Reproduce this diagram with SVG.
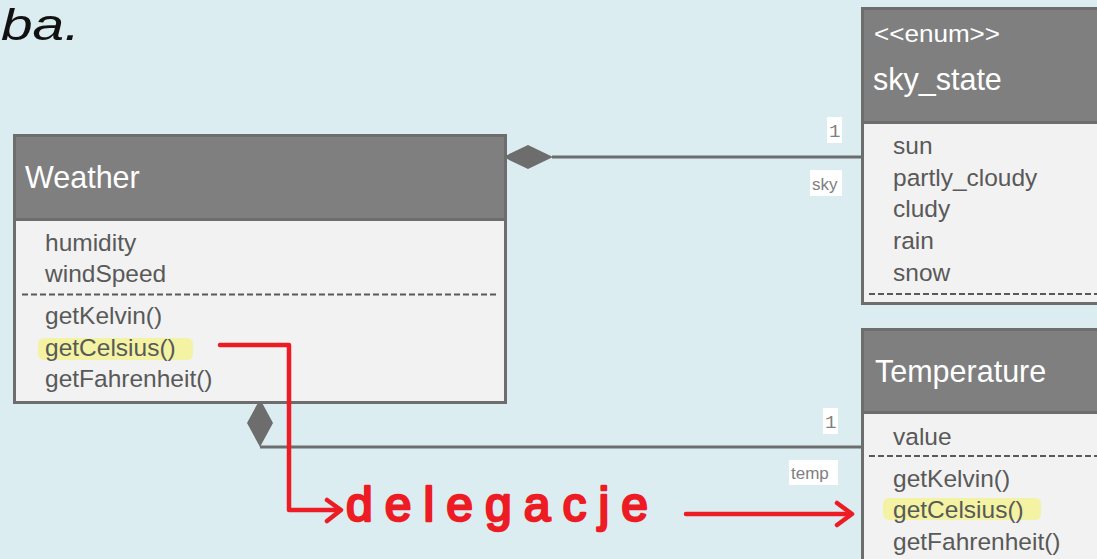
<svg xmlns="http://www.w3.org/2000/svg" width="1097" height="559" viewBox="0 0 1097 559">
  <style>
    .frame { fill: #f2f2f2; stroke: #6d6d6d; stroke-width: 3; }
    .head { fill: #7f7f7f; stroke: #6d6d6d; stroke-width: 3; }
    .title { font-family: "Liberation Sans", Arial, sans-serif; fill: #ffffff; }
    .item { font-family: "Liberation Sans", Arial, sans-serif; font-size: 24.5px; fill: #595959; }
    .sep { stroke: #595959; stroke-width: 2; stroke-dasharray: 6 3; }
    .assoc { stroke: #6d6d6d; stroke-width: 3; fill: none; }
    .diamond { fill: #6d6d6d; }
    .lblbg { fill: #ffffff; }
    .mult { font-family: "Liberation Mono", "DejaVu Sans Mono", monospace; font-size: 19px; fill: #808080; }
    .role { font-family: "Liberation Sans", Arial, sans-serif; font-size: 17px; fill: #808080; }
    .mark { fill: #f3f39a; opacity: 0.9; }
    .pen { stroke: #ed1c24; stroke-width: 4.5; fill: none; stroke-linecap: round; stroke-linejoin: round; }
    .hand { font-family: "Liberation Sans", Arial, sans-serif; font-size: 48px; fill: #ed1c24; stroke: #ed1c24; stroke-width: 2.5; stroke-linejoin: round; }
  </style>

  <rect width="1097" height="559" fill="#dbedf0"/>

  <!-- slide title fragment -->
  <text x="1" y="40" font-family="Liberation Sans, Arial, sans-serif" font-style="italic" font-size="44" fill="#111111" textLength="79" lengthAdjust="spacingAndGlyphs">ba.</text>

  <!-- associations -->
  <g id="connectors">
    <line class="assoc" x1="552" y1="157" x2="862" y2="157"/>
    <polygon class="diamond" points="503,157 528,145 553,157 528,169"/>
    <line class="assoc" x1="260" y1="447" x2="862" y2="447"/>
    <polygon class="diamond" points="260,399 273,423 260,447 247,423"/>

    <rect class="lblbg" x="827" y="117" width="15" height="26"/>
    <text class="mult" x="829" y="137">1</text>
    <rect class="lblbg" x="810" y="170" width="32" height="26"/>
    <text class="role" x="812" y="190">sky</text>

    <rect class="lblbg" x="823" y="408" width="15" height="26"/>
    <text class="mult" x="825" y="428">1</text>
    <rect class="lblbg" x="789" y="460" width="49" height="25"/>
    <text class="role" x="791" y="479">temp</text>
  </g>

  <!-- Weather class -->
  <g id="weather">
    <rect class="frame" x="14.5" y="135.5" width="491" height="267"/>
    <rect class="head" x="14.5" y="135.5" width="491" height="84"/>
    <text class="title" x="25" y="188" font-size="30.5">Weather</text>
    <text class="item" x="45" y="251">humidity</text>
    <text class="item" x="45" y="282">windSpeed</text>
    <line class="sep" x1="22" y1="294.5" x2="498" y2="294.5"/>
    <text class="item" x="45" y="324">getKelvin()</text>
    <rect class="mark" x="38" y="338" width="155" height="22" rx="6"/>
    <text class="item" x="45" y="356">getCelsius()</text>
    <text class="item" x="45" y="387">getFahrenheit()</text>
  </g>

  <!-- sky_state enumeration -->
  <g id="sky_state">
    <rect class="frame" x="862.5" y="8.5" width="250" height="295"/>
    <rect class="head" x="862.5" y="8.5" width="250" height="114"/>
    <text class="title" x="874" y="42" font-size="23" textLength="126" lengthAdjust="spacingAndGlyphs">&lt;&lt;enum&gt;&gt;</text>
    <text class="title" x="873" y="90" font-size="30.5">sky_state</text>
    <text class="item" x="893" y="154">sun</text>
    <text class="item" x="893" y="186">partly_cloudy</text>
    <text class="item" x="893" y="217">cludy</text>
    <text class="item" x="893" y="249">rain</text>
    <text class="item" x="893" y="281">snow</text>
    <line class="sep" x1="869" y1="294" x2="1097" y2="294"/>
  </g>

  <!-- Temperature class -->
  <g id="temperature">
    <rect class="frame" x="862.5" y="329.5" width="250" height="240"/>
    <rect class="head" x="862.5" y="329.5" width="250" height="83"/>
    <text class="title" x="875" y="382" font-size="30.5">Temperature</text>
    <text class="item" x="893" y="445">value</text>
    <line class="sep" x1="869" y1="456" x2="1097" y2="456"/>
    <text class="item" x="893" y="487">getKelvin()</text>
    <rect class="mark" x="883" y="498" width="158" height="22" rx="6"/>
    <text class="item" x="893" y="518">getCelsius()</text>
    <text class="item" x="893" y="550">getFahrenheit()</text>
  </g>

  <!-- hand-drawn delegation note -->
  <g id="delegation">
    <path class="pen" d="M220,345 H289 V510 H340"/>
    <path class="pen" d="M327,500 L341,510 L327,521"/>
    <text class="hand" x="346" y="521" textLength="302" lengthAdjust="spacing">delegacje</text>
    <path class="pen" d="M686,514 H850"/>
    <path class="pen" d="M837,503 L852,514 L837,525"/>
  </g>
</svg>
